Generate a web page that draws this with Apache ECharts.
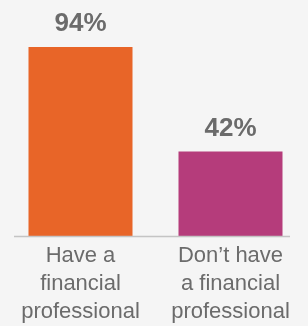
<!DOCTYPE html>
<html>
<head>
<meta charset="utf-8">
<script src="https://cdn.jsdelivr.net/npm/echarts@6/dist/echarts.min.js"></script>
<style>
  html, body { margin: 0; padding: 0; background: #f5f5f5; }
  #main { width: 308px; height: 326px; }
</style>
</head>
<body>
<div id="main"></div>
<script>
// data
const categories = ["Have a\nfinancial\nprofessional", "Don\u2019t have\na financial\nprofessional"];
const values = [94, 42];
const barColors = ["#e86528", "#b53c7b"];

const chart = echarts.init(document.getElementById("main"));

const option = {
  backgroundColor: "#f5f5f5",
  animation: false,
  grid: { left: 5.5, right: 2.5, top: 47, bottom: 90 },
  xAxis: {
    type: "category",
    data: categories,
    axisLine: { show: false },
    axisTick: { show: false },
    axisLabel: {
      interval: 0,
      margin: 6,
      color: "#6b6b6b",
      fontFamily: "Liberation Sans",
      fontSize: 22,
      lineHeight: 28,
    },
  },
  yAxis: {
    type: "value",
    min: 0,
    max: 94,
    show: false,
  },
  series: [
    {
      type: "bar",
      barWidth: 104,
      data: values.map((v, i) => ({ value: v, itemStyle: { color: barColors[i] } })),
      label: {
        show: true,
        position: "top",
        distance: 10,
        formatter: "{c}%",
        color: "#6b6b6b",
        fontFamily: "Liberation Sans",
        fontWeight: "bold",
        fontSize: 26,
      },
    },
  ],
  // baseline under the bars
  graphic: [
    {
      type: "line",
      shape: { x1: 14, y1: 236.5, x2: 290, y2: 236.5 },
      style: { stroke: "#c4c4c4", lineWidth: 1.5 },
      z: 10,
    },
  ],
};

chart.setOption(option);
</script>
</body>
</html>
